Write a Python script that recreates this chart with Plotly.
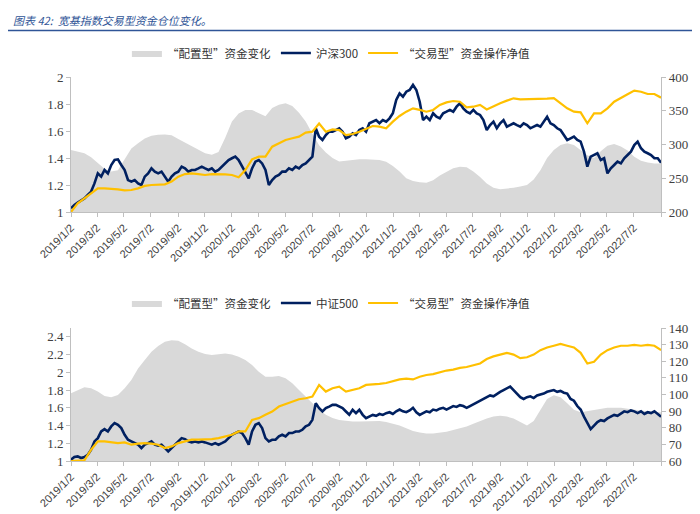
import pandas as pd
import plotly.graph_objects as go

START, END = "2019-01-02", "2022-09-02"

TICK_DATES = ["2019-01-02", "2019-03-02", "2019-05-02", "2019-07-02", "2019-09-02", "2019-11-02",
              "2020-01-02", "2020-03-02", "2020-05-02", "2020-07-02", "2020-09-02", "2020-11-02",
              "2021-01-02", "2021-03-02", "2021-05-02", "2021-07-02", "2021-09-02", "2021-11-02",
              "2022-01-02", "2022-03-02", "2022-05-02", "2022-07-02", "2022-09-02"]
TICK_LABELS = ["2019/1/2", "2019/3/2", "2019/5/2", "2019/7/2", "2019/9/2", "2019/11/2",
               "2020/1/2", "2020/3/2", "2020/5/2", "2020/7/2", "2020/9/2", "2020/11/2",
               "2021/1/2", "2021/3/2", "2021/5/2", "2021/7/2", "2021/9/2", "2021/11/2",
               "2022/1/2", "2022/3/2", "2022/5/2", "2022/7/2", ""]

# ---- top chart ----
top_alloc = [292, 290, 287, 281, 272, 264, 260, 262, 278, 294, 302, 309, 313, 314.6, 315, 313.6, 308, 303, 297, 292,
             287, 285, 289, 310, 334, 346, 351, 351, 346, 342, 354, 359, 361, 357, 347, 334, 316, 299, 288, 280,
             275, 276, 277.4, 278, 278,
             278, 277, 274.6, 268, 260, 250, 246, 244, 243.4, 247, 254, 260, 265, 267.2, 266.2, 260, 252, 242.4, 236, 233.6,
             234.4, 236, 237.6, 240, 248, 262, 280, 292, 299.2, 301.8, 299.2, 291, 284, 280, 290, 298, 300.8, 297, 291, 282,
             276, 273.4, 272, 272]

hs300 = [1.027, 1.052, 1.069, 1.084, 1.101, 1.126, 1.151, 1.212, 1.286, 1.262,
         1.311, 1.286, 1.348, 1.385, 1.390, 1.348, 1.311, 1.237, 1.225, 1.237,
         1.212, 1.200, 1.262, 1.286, 1.323, 1.299, 1.286, 1.299, 1.262, 1.225,
         1.262, 1.286, 1.299, 1.336, 1.323, 1.299, 1.311, 1.311, 1.323, 1.336,
         1.323, 1.311, 1.323, 1.299, 1.311, 1.336, 1.360, 1.385, 1.398, 1.410,
         1.385, 1.336, 1.286, 1.249, 1.323, 1.373, 1.385, 1.360, 1.311, 1.200,
         1.237, 1.262, 1.274, 1.299, 1.299, 1.323, 1.311, 1.336, 1.323, 1.348,
         1.360, 1.385, 1.410, 1.620, 1.558, 1.533, 1.570, 1.595, 1.595, 1.607,
         1.620, 1.595, 1.546, 1.558, 1.583, 1.570, 1.607, 1.620, 1.595,
         1.657, 1.669, 1.681, 1.657, 1.681, 1.669, 1.694, 1.731,
         1.830, 1.879, 1.854, 1.891, 1.904, 1.941, 1.904, 1.817, 1.681, 1.706,
         1.681, 1.731, 1.706, 1.694, 1.731, 1.743, 1.756, 1.743, 1.780, 1.805,
         1.768, 1.743, 1.731, 1.756, 1.731, 1.719, 1.681, 1.607, 1.644, 1.669,
         1.620, 1.657, 1.681, 1.632, 1.644, 1.657, 1.644, 1.632, 1.657, 1.644,
         1.620, 1.632, 1.644, 1.632, 1.669, 1.706, 1.657, 1.644, 1.620, 1.607,
         1.570, 1.533, 1.546, 1.558, 1.533, 1.521, 1.447, 1.336, 1.410, 1.422,
         1.435, 1.385, 1.398, 1.286, 1.323, 1.348, 1.373, 1.360, 1.398, 1.422,
         1.447, 1.496, 1.521, 1.472, 1.447, 1.435, 1.422, 1.398, 1.398, 1.365]

top_trade = [1.000, 1.064, 1.101, 1.138, 1.175, 1.175, 1.173, 1.168, 1.160, 1.163,
             1.175, 1.193, 1.200, 1.200, 1.205, 1.225, 1.262, 1.281, 1.286, 1.281,
             1.274, 1.281, 1.281, 1.279, 1.274, 1.257, 1.311, 1.390, 1.410, 1.410,
             1.484, 1.509, 1.533, 1.546, 1.558, 1.588, 1.595, 1.655, 1.595, 1.612,
             1.607, 1.570, 1.578, 1.595, 1.615,
             1.637, 1.632, 1.620, 1.669, 1.711, 1.743, 1.768, 1.756, 1.743, 1.756,
             1.793, 1.812, 1.822, 1.817, 1.775, 1.780, 1.793, 1.760, 1.785, 1.805,
             1.825, 1.842, 1.835, 1.835, 1.837, 1.840, 1.840, 1.844, 1.805, 1.768,
             1.743, 1.738, 1.657, 1.731, 1.731, 1.768, 1.817, 1.842, 1.872, 1.899,
             1.891, 1.874, 1.874, 1.847]

# ---- bottom chart ----
bot_alloc = [100.7, 102.7, 104.3, 103.7, 101.8, 99.1, 98.3, 99.7, 103.7, 108.7,
             115.7, 120.7, 125.7, 129.1, 131.7, 132.7, 132.3, 130.3, 127.7, 125.7,
             124.3, 123.7, 124.3, 124.7, 124.1, 122.7, 120.7, 117.7, 113.7, 110.7,
             110.7, 111.1, 109.8, 106.7, 102.7, 98.8, 94.8, 90.8, 87.8, 85.8,
             84.7, 84.2, 83.8, 83.8, 83.8,
             84.0, 84.0, 83.5, 82.4, 81.3, 79.7, 78.1, 77.1, 76.5, 76.5,
             77.1, 77.6, 78.7, 79.7, 80.8, 82.4, 84.0, 85.6, 86.7, 87.2,
             86.7, 85.6, 83.5, 81.3, 84.0, 90.9, 97.3, 99.5, 98.4, 94.7,
             90.9, 89.3, 89.9, 90.9, 91.5, 92.0, 92.0, 92.0, 91.5, 90.9,
             90.4, 89.9, 89.3, 89.3]

zz500 = [1.015, 1.045, 1.052, 1.034, 1.045, 1.071, 1.127, 1.221, 1.258, 1.333,
         1.360, 1.333, 1.390, 1.427, 1.408, 1.371, 1.296, 1.240, 1.221, 1.202,
         1.184, 1.146, 1.184, 1.202, 1.221, 1.184, 1.172, 1.184, 1.146, 1.109,
         1.146, 1.184, 1.221, 1.258, 1.247, 1.221, 1.210, 1.221, 1.210, 1.221,
         1.210, 1.195, 1.184, 1.202, 1.184, 1.202, 1.221, 1.258, 1.296, 1.315,
         1.333, 1.315, 1.258, 1.184, 1.333, 1.408, 1.427, 1.371, 1.258, 1.221,
         1.240, 1.240, 1.277, 1.296, 1.277, 1.315, 1.315, 1.333, 1.333, 1.352,
         1.390, 1.408, 1.464, 1.652, 1.596, 1.558, 1.596, 1.614, 1.633, 1.633,
         1.614, 1.596, 1.558, 1.521, 1.577, 1.539, 1.577, 1.521, 1.483,
         1.50, 1.52, 1.51, 1.53, 1.52, 1.54, 1.55, 1.53, 1.56, 1.58, 1.56, 1.55,
         1.57, 1.60, 1.55, 1.52, 1.54, 1.56, 1.55, 1.58, 1.57, 1.59, 1.60, 1.58,
         1.60, 1.62, 1.61, 1.63, 1.62, 1.60, 1.62, 1.64, 1.66, 1.68, 1.70, 1.72,
         1.74, 1.73, 1.76, 1.78, 1.80, 1.82, 1.84, 1.80, 1.76, 1.72, 1.70, 1.72,
         1.73, 1.71, 1.74, 1.75, 1.76, 1.78, 1.79, 1.80, 1.78, 1.79, 1.77, 1.76,
         1.70, 1.68, 1.62, 1.58, 1.50, 1.42, 1.36, 1.40, 1.44, 1.46, 1.45, 1.48,
         1.50, 1.52, 1.51, 1.54, 1.56, 1.55, 1.57, 1.56, 1.54, 1.56, 1.53, 1.55,
         1.54, 1.56, 1.53, 1.50]

bot_trade = [1.000, 1.000, 1.007, 1.127, 1.221, 1.221, 1.210, 1.202, 1.210, 1.184,
             1.195, 1.202, 1.195, 1.184, 1.146, 1.165, 1.202, 1.221, 1.240, 1.240,
             1.240, 1.247, 1.258, 1.277, 1.296, 1.333, 1.333, 1.464, 1.483, 1.521,
             1.558, 1.614, 1.644, 1.670, 1.697, 1.708, 1.727, 1.858, 1.783, 1.820,
             1.839, 1.783, 1.801, 1.820, 1.858,
             1.86, 1.87, 1.88, 1.90, 1.92, 1.93, 1.92, 1.95, 1.97, 1.98,
             2.00, 2.02, 2.03, 2.05, 2.06, 2.08, 2.10, 2.15, 2.18, 2.20,
             2.22, 2.20, 2.16, 2.17, 2.20, 2.25, 2.28, 2.30, 2.32, 2.30,
             2.28, 2.22, 2.10, 2.12, 2.20, 2.25, 2.28, 2.30, 2.30, 2.31,
             2.30, 2.31, 2.30, 2.25]

NAMES_TOP = ["“配置型”资金变化", "沪深300", "“交易型”资金操作净值"]
NAMES_BOT = ["“配置型”资金变化", "中证500", "“交易型”资金操作净值"]

GRAY, NAVY, GOLD = "#D9D9D9", "#002060", "#FFC000"


def grid(values):
    return pd.date_range(START, END, periods=len(values))


fig = go.Figure()

# top
fig.add_trace(go.Scatter(x=grid(top_alloc), y=top_alloc, name=NAMES_TOP[0], mode="lines", fill="tozeroy",
                         fillcolor=GRAY, line=dict(width=0, color=GRAY), xaxis="x", yaxis="y", legend="legend"))
fig.add_trace(go.Scatter(x=grid(hs300), y=hs300, name=NAMES_TOP[1], mode="lines",
                         line=dict(width=2.6, color=NAVY), xaxis="x", yaxis="y2", legend="legend"))
fig.add_trace(go.Scatter(x=grid(top_trade), y=top_trade, name=NAMES_TOP[2], mode="lines",
                         line=dict(width=2.2, color=GOLD), xaxis="x", yaxis="y2", legend="legend"))
# bottom
fig.add_trace(go.Scatter(x=grid(bot_alloc), y=bot_alloc, name=NAMES_BOT[0], mode="lines", fill="tozeroy",
                         fillcolor=GRAY, line=dict(width=0, color=GRAY), xaxis="x2", yaxis="y3", legend="legend2"))
fig.add_trace(go.Scatter(x=grid(zz500), y=zz500, name=NAMES_BOT[1], mode="lines",
                         line=dict(width=2.6, color=NAVY), xaxis="x2", yaxis="y4", legend="legend2"))
fig.add_trace(go.Scatter(x=grid(bot_trade), y=bot_trade, name=NAMES_BOT[2], mode="lines",
                         line=dict(width=2.2, color=GOLD), xaxis="x2", yaxis="y4", legend="legend2"))

AX = "#BFBFBF"
num_font = dict(family="Liberation Serif, Times New Roman, serif", size=13, color="#404040")
date_font = dict(family="Liberation Sans Narrow, Arial Narrow, Liberation Sans, sans-serif", size=11, color="#404040")

xcommon = dict(type="date", range=[START, END], tickvals=TICK_DATES, ticktext=TICK_LABELS, tickangle=-45,
               tickfont=date_font, showline=True, linecolor=AX, linewidth=1, ticks="outside", ticklen=4,
               tickcolor=AX, showgrid=False, zeroline=False, automargin=False, domain=[0.09, 0.933])
ycommon = dict(showline=True, linecolor=AX, linewidth=1, ticks="outside", ticklen=4, tickcolor=AX,
               showgrid=False, zeroline=False, automargin=False, tickfont=num_font)

LEG_TOP = 1 - 45 / 514
LEG_BOT = 1 - 295 / 514
legend_font = dict(family="Noto Sans CJK SC, sans-serif", size=11.5, color="#333333")

fig.update_layout(
    width=700, height=514, margin=dict(l=0, r=0, t=0, b=0),
    paper_bgcolor="white", plot_bgcolor="white", template="none",
    xaxis=dict(**xcommon, anchor="y"),
    yaxis=dict(**ycommon, domain=[1 - 204 / 514, 1 - 69 / 514], range=[200, 400], dtick=50, side="right", anchor="x"),
    yaxis2=dict(**ycommon, range=[1, 2], dtick=0.2, side="left", overlaying="y", anchor="x"),
    xaxis2=dict(**xcommon, anchor="y3"),
    yaxis3=dict(**ycommon, domain=[1 - 453 / 514, 1 - 320 / 514], range=[60, 140], dtick=10, side="right", anchor="x2"),
    yaxis4=dict(**ycommon, range=[1, 2.5], tickvals=[1, 1.2, 1.4, 1.6, 1.8, 2, 2.2, 2.4], side="left",
                overlaying="y3", anchor="x2"),
    legend=dict(orientation="h", x=0.462, xanchor="center", y=LEG_TOP, yanchor="middle", font=legend_font,
                bgcolor="rgba(0,0,0,0)", itemwidth=30, traceorder="normal"),
    legend2=dict(orientation="h", x=0.462, xanchor="center", y=LEG_BOT, yanchor="middle", font=legend_font,
                 bgcolor="rgba(0,0,0,0)", itemwidth=30, traceorder="normal"),
    showlegend=True,
)

fig.add_annotation(text="<i>图表 42:  宽基指数交易型资金仓位变化。</i>", xref="paper", yref="paper", x=0.004,
                   y=1 - 12 / 514, xanchor="left", yanchor="middle", showarrow=False,
                   font=dict(family="Noto Sans CJK SC, sans-serif", size=11, color="#2F5597"))
fig.add_shape(type="line", xref="paper", yref="paper", x0=0, x1=1, y0=1 - 22.5 / 514, y1=1 - 22.5 / 514,
              line=dict(color="#2F5597", width=1.5))

fig.write_html("out.html")
